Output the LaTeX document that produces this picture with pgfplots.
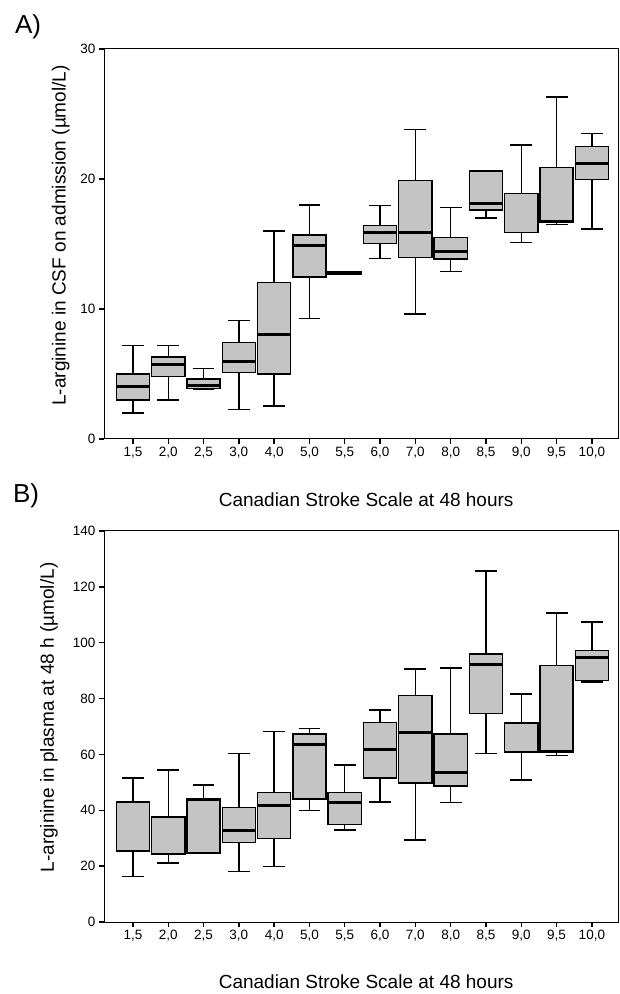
\documentclass[border=0pt]{standalone}
\usepackage{pgfplots}
\pgfplotsset{compat=1.18}
\usepgfplotslibrary{statistics}
\usepackage{fontspec}
\setmainfont{Liberation Sans}
\definecolor{boxgray}{gray}{0.77}
\pgfplotsset{
  myax/.style={
    scale only axis, width=514bp, anchor=south west,
    xmin=-0.82, xmax=13.74,
    xtick={0,...,13},
    xticklabels={{1,5},{2,0},{2,5},{3,0},{4,0},{5,0},{5,5},{6,0},{7,0},{8,0},{8,5},{9,0},{9,5},{10,0}},
    xtick pos=bottom, ytick pos=left,
    tick align=outside,
    major tick length=5bp,
    every tick/.style={black, line width=1.4bp},
    axis line style={line width=1bp},
    /pgf/number format/assume math mode=true,
    tick label style={font=\fontsize{13.5bp}{15bp}\selectfont},
    label style={font=\fontsize{19bp}{22bp}\selectfont},
    boxplot/draw direction=y,
    boxplot/box extend=0.94,
    boxplot/whisker extend=0.62,
    boxplot/every median/.style={line width=3bp},
    boxplot/every box/.style={fill=boxgray, draw=black, line width=1.4bp},
    boxplot/every whisker/.style={draw=black, line width=1.4bp},
  },
  thinmed/.style={boxplot/every median/.style={line width=1.4bp}},
}
\newcommand{\bx}[7][]{\addplot[draw=black, #1, boxplot prepared={draw position=#2, lower whisker=#3, lower quartile=#4, median=#5, upper quartile=#6, upper whisker=#7}] coordinates {};}
\begin{document}
\begin{tikzpicture}
\path[use as bounding box] (0,0) rectangle (620bp,994bp);
\node[font=\fontsize{26bp}{30bp}\selectfont] at (28bp,967bp) {A)};
\node[font=\fontsize{26bp}{30bp}\selectfont] at (26bp,498bp) {B)};
% Panel A
\begin{axis}[myax, at={(104bp,555bp)}, height=390bp,
  ymin=0, ymax=30, ytick={0,10,20,30},
  xlabel={Canadian Stroke Scale at 48 hours},
  ylabel={L-arginine in CSF on admission (µmol/L)},
  xlabel style={at={(axis description cs:0.51,-0.156)}, anchor=center},
  ylabel style={at={(axis description cs:-0.084,0.522)}, anchor=center},
]
\bx{0}{2.0}{3.0}{4.05}{5.0}{7.2}
\bx{1}{3.0}{4.8}{5.7}{6.3}{7.2}
\bx{2}{3.8}{3.9}{4.1}{4.6}{5.4}
\bx{3}{2.25}{5.1}{5.95}{7.4}{9.1}
\bx{4}{2.55}{5.0}{8.0}{12.05}{16.0}
\bx{5}{9.25}{12.45}{14.9}{15.7}{18.0}
\bx{6}{12.7}{12.7}{12.8}{12.9}{12.9}
\bx{7}{13.9}{15.05}{15.9}{16.4}{17.95}
\bx{8}{9.6}{13.95}{15.9}{19.9}{23.8}
\bx{9}{12.9}{13.85}{14.4}{15.5}{17.8}
\bx{10}{17.0}{17.6}{18.1}{20.6}{20.6}
\bx[thinmed]{11}{15.1}{15.9}{18.9}{18.9}{22.6}
\bx{12}{16.5}{16.7}{16.75}{20.9}{26.3}
\bx{13}{16.15}{19.97}{21.2}{22.5}{23.5}
\end{axis}
% Panel B
\begin{axis}[myax, at={(104bp,72bp)}, height=391bp,
  ymin=0, ymax=140, ytick={0,20,...,140},
  xlabel={Canadian Stroke Scale at 48 hours},
  ylabel={L-arginine in plasma at 48 h (µmol/L)},
  xlabel style={at={(axis description cs:0.51,-0.153)}, anchor=center},
  ylabel style={at={(axis description cs:-0.107,0.523)}, anchor=center},
]
\bx[thinmed]{0}{16.3}{25.4}{43.0}{43.0}{51.6}
\bx[thinmed]{1}{21.1}{24.4}{37.6}{37.6}{54.4}
\bx{2}{24.7}{24.7}{43.7}{44.3}{49.1}
\bx{3}{18.1}{28.5}{32.6}{41.1}{60.4}
\bx{4}{19.8}{29.9}{41.8}{46.3}{68.2}
\bx{5}{40.0}{44.1}{63.7}{67.3}{69.3}
\bx{6}{33.0}{35.0}{42.8}{46.3}{56.2}
\bx{7}{43.0}{51.5}{61.8}{71.4}{75.9}
\bx{8}{29.4}{49.7}{67.9}{81.1}{90.6}
\bx{9}{42.7}{48.7}{53.6}{67.3}{90.9}
\bx{10}{60.4}{74.6}{92.2}{96.0}{125.7}
\bx[thinmed]{11}{50.8}{60.9}{60.9}{71.2}{81.6}
\bx{12}{59.7}{60.9}{60.9}{91.9}{110.7}
\bx{13}{86.0}{86.5}{94.6}{97.3}{107.4}
\end{axis}
\end{tikzpicture}
\end{document}
